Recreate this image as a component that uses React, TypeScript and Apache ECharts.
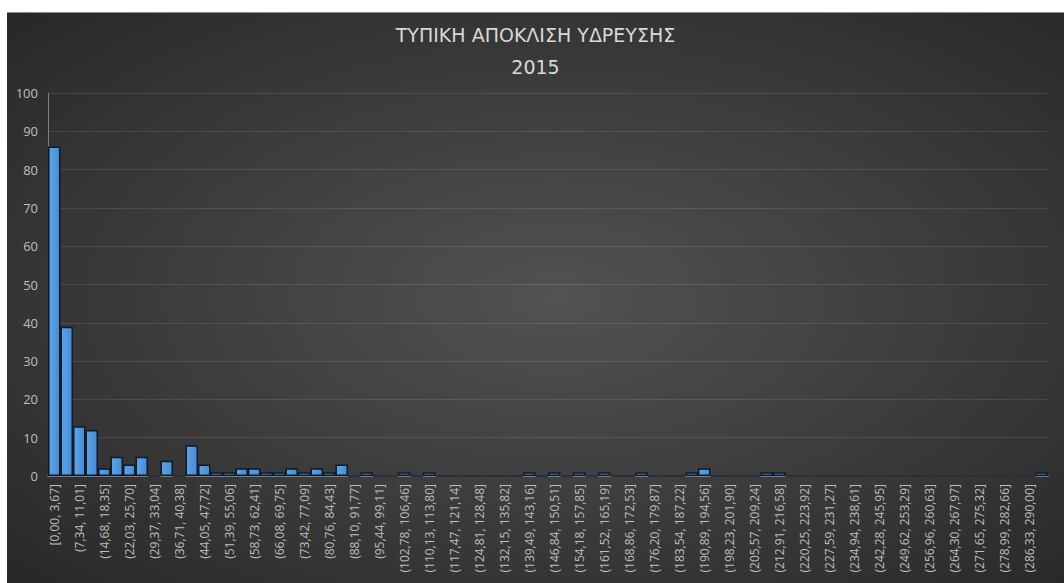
import React, { useEffect, useRef } from "react";
import * as echarts from "echarts";

const TITLE = "ΤΥΠΙΚΗ ΑΠΟΚΛΙΣΗ ΥΔΡΕΥΣΗΣ";
const SUBTITLE = "2015";

const binEdges: string[] = [
  "0,00", "3,67", "7,34", "11,01", "14,68", "18,35", "22,03", "25,70", "29,37", "33,04",
  "36,71", "40,38", "44,05", "47,72", "51,39", "55,06", "58,73", "62,41", "66,08", "69,75",
  "73,42", "77,09", "80,76", "84,43", "88,10", "91,77", "95,44", "99,11", "102,78", "106,46",
  "110,13", "113,80", "117,47", "121,14", "124,81", "128,48", "132,15", "135,82", "139,49", "143,16",
  "146,84", "150,51", "154,18", "157,85", "161,52", "165,19", "168,86", "172,53", "176,20", "179,87",
  "183,54", "187,22", "190,89", "194,56", "198,23", "201,90", "205,57", "209,24", "212,91", "216,58",
  "220,25", "223,92", "227,59", "231,27", "234,94", "238,61", "242,28", "245,95", "249,62", "253,29",
  "256,96", "260,63", "264,30", "267,97", "271,65", "275,32", "278,99", "282,66", "286,33", "290,00",
  "293,67",
];

const categories: string[] = binEdges.slice(0, -1).map((lo, i) =>
  (i === 0 ? "[" : "(") + lo + ", " + binEdges[i + 1] + "]"
);

const counts: number[] = [
  86, 39, 13, 12, 2, 5, 3, 5, 0, 4,
  0, 8, 3, 1, 1, 2, 2, 1, 1, 2,
  1, 2, 1, 3, 0, 1, 0, 0, 1, 0,
  1, 0, 0, 0, 0, 0, 0, 0, 1, 0,
  1, 0, 1, 0, 1, 0, 0, 1, 0, 0,
  0, 1, 2, 0, 0, 0, 0, 1, 1, 0,
  0, 0, 0, 0, 0, 0, 0, 0, 0, 0,
  0, 0, 0, 0, 0, 0, 0, 0, 0, 1,
];

const yTicks = { min: 0, max: 100, interval: 10 };

export default function App() {
  const ref = useRef<HTMLDivElement>(null);
  useEffect(() => {
    if (!ref.current) return;
    const chart = echarts.init(ref.current, undefined, { renderer: "svg" });
    chart.setOption({
      animation: false,
      backgroundColor: {
        type: "radial",
        x: 0.52,
        y: 0.5,
        r: 0.75,
        colorStops: [
          { offset: 0, color: "#525252" },
          { offset: 1, color: "#262626" },
        ],
      },
      title: {
        text: TITLE + "\n" + SUBTITLE,
        left: "center",
        top: 6,
        padding: 0,
        textStyle: {
          color: "#d9d9d9",
          fontFamily: "DejaVu Sans",
          fontWeight: "normal",
          fontSize: 19,
          lineHeight: 32,
        },
      },
      grid: { left: 41, width: 1000, top: 80, bottom: 107, containLabel: false },
      xAxis: {
        type: "category",
        data: categories,
        boundaryGap: true,
        axisLine: { show: true, lineStyle: { color: "#8c8c8c", width: 1.5 } },
        axisTick: { show: false },
        axisLabel: {
          interval: 1,
          rotate: 90,
          margin: 8,
          color: "#bfbfbf",
          fontFamily: "Open Sans",
          fontSize: 12,
        },
        splitLine: { show: false },
      },
      yAxis: {
        type: "value",
        min: yTicks.min,
        max: yTicks.max,
        interval: yTicks.interval,
        axisLine: { show: true, lineStyle: { color: "#7f7f7f", width: 1 } },
        axisTick: { show: false },
        axisLabel: {
          color: "#bfbfbf",
          fontFamily: "Open Sans",
          fontSize: 13,
          margin: 10,
        },
        splitLine: { show: true, lineStyle: { color: "rgba(255,255,255,0.1)", width: 1 } },
      },
      series: [
        {
          type: "bar",
          data: counts,
          barCategoryGap: "0%",
          barGap: "0%",
          itemStyle: {
            color: {
              type: "linear",
              x: 0,
              y: 0,
              x2: 1,
              y2: 0,
              colorStops: [
                { offset: 0, color: "#5fa3e6" },
                { offset: 1, color: "#478bd4" },
              ],
            },
            borderColor: "#0c1a2b",
            borderWidth: 1.5,
          },
        },
      ],
    });
    return () => chart.dispose();
  }, []);
  return (
    <div
      ref={ref}
      style={{
        position: "absolute",
        left: 7,
        top: 12,
        width: 1057,
        height: 571,
        borderTop: "1px solid #8c8c8c",
        boxSizing: "border-box",
      }}
    />
  );
}
